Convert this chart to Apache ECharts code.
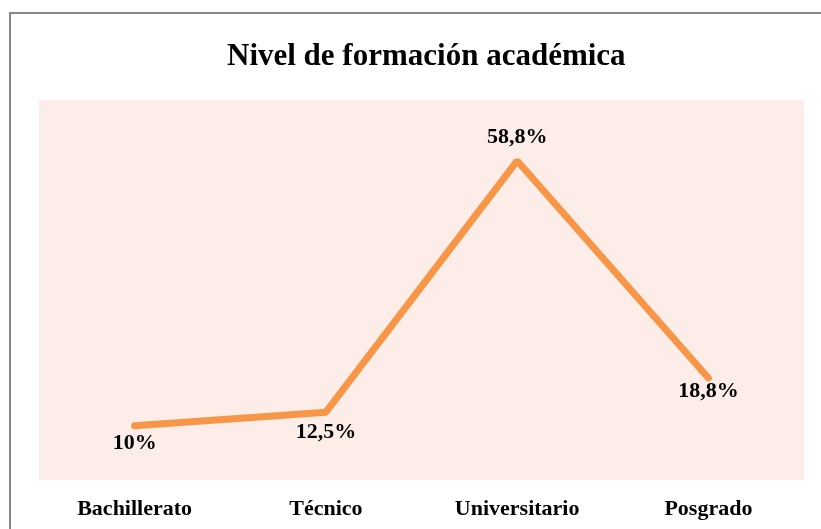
<!DOCTYPE html>
<html>
<head>
<meta charset="utf-8">
<script src="https://cdn.jsdelivr.net/npm/echarts@6/dist/echarts.min.js"></script>
<style>
  html, body { margin: 0; padding: 0; background: #fff; }
  #chart { width: 821px; height: 529px; }
</style>
</head>
<body>
<div id="chart"></div>
<script>
const categories = ["Bachillerato", "Técnico", "Universitario", "Posgrado"]
const values = [10, 12.5, 58.8, 18.8]
const valueLabels = ["10%", "12,5%", "58,8%", "18,8%"]
const labelPos = ["bottom", "bottom", "top", "bottom"]
const labelDist = [7, 9, 12, 2]

const chart = echarts.init(document.getElementById("chart"))
const serif = "'Liberation Serif', 'Times New Roman', serif"

chart.setOption({
  animation: false,
  backgroundColor: "#fff",
  title: {
    text: "Nivel de formación académica",
    left: 222,
    top: 36,
    textStyle: { fontFamily: serif, fontSize: 31, fontWeight: "bold", color: "#000" }
  },
  graphic: [{
    type: "rect",
    shape: { x: 10, y: 13, width: 900, height: 700 },
    style: { fill: "none", stroke: "#878787", lineWidth: 2 }
  }],
  grid: {
    left: 39, right: 17, top: 100, bottom: 49,
    show: true, backgroundColor: "#fcede8", borderWidth: 0
  },
  xAxis: {
    type: "category",
    data: categories,
    axisLine: { show: false },
    axisTick: { show: false },
    axisLabel: { margin: 18, fontFamily: serif, fontSize: 22, fontWeight: "bold", color: "#000" }
  },
  yAxis: {
    type: "value",
    min: 0,
    max: 70,
    show: false,
    splitLine: { show: false }
  },
  series: [{
    type: "line",
    symbol: "circle",
    symbolSize: 0,
    showSymbol: true,
    lineStyle: { color: "#f79646", width: 7, cap: "round" },
    itemStyle: { color: "#f79646" },
    data: values.map((v, i) => ({
      value: v,
      label: {
        show: true,
        position: labelPos[i],
        distance: labelDist[i],
        formatter: valueLabels[i],
        fontFamily: serif,
        fontSize: 22,
        fontWeight: "bold",
        color: "#000"
      }
    }))
  }]
})
</script>
</body>
</html>
